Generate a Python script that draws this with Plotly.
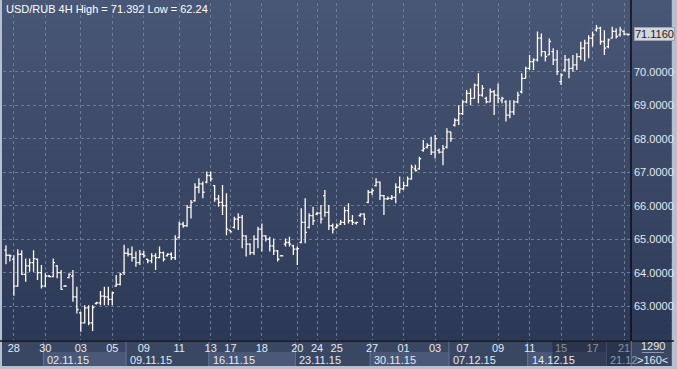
import plotly.graph_objects as go
import numpy as np

# ---------------- data ----------------
title_text = "USD/RUB 4H High = 71.392 Low = 62.24"

opens = [64.67, 64.52, 64.40, 63.60, 64.55, 63.95, 64.20, 64.30, 64.40, 64.00,
         63.60, 63.90, 63.88, 64.20, 64.00, 63.60, 63.85, 63.90, 63.28, 62.80,
         62.50, 62.95, 62.50, 63.08, 63.10, 63.30, 63.28, 63.20, 63.60, 63.65,
         64.00, 64.58, 64.55, 64.45, 64.30, 64.55, 64.40, 64.35, 64.50, 64.45,
         64.60, 64.50, 64.55, 64.45, 65.05, 65.45, 65.40, 65.95, 66.15, 66.55,
         66.65, 66.70, 66.90, 66.60, 66.20, 66.10, 66.00, 65.27, 65.35, 65.60,
         65.65, 65.10, 64.85, 64.60, 65.00, 65.30, 65.10, 65.00, 64.80, 64.65,
         64.50, 64.85, 64.90, 64.80, 64.70, 64.90, 65.50, 65.35, 65.70, 65.75,
         65.78, 66.30, 65.80, 65.40, 65.35, 65.45, 65.50, 65.85, 65.55, 65.48,
         65.70, 65.75, 66.10, 66.40, 66.60, 66.70, 66.30, 66.20, 66.22, 66.25,
         66.55, 66.50, 66.60, 66.80, 67.10, 67.10, 67.65, 67.75, 67.80, 67.60,
         67.65, 67.60, 67.75, 68.20, 68.40, 68.55, 68.75, 69.10, 69.35, 69.20,
         69.60, 69.30, 69.20, 69.10, 69.40, 69.30, 69.15, 69.10, 68.70, 68.80,
         69.10, 69.40, 69.80, 70.10, 70.30, 70.35, 71.00, 70.60, 70.50, 70.60,
         70.35, 69.70, 70.05, 70.35, 70.10, 70.20, 70.45, 70.70, 70.85, 71.00,
         71.25, 71.30, 70.90, 70.75, 71.00, 71.20, 71.10, 71.20, 71.12]
highs = [64.82, 64.54, 64.52, 64.70, 64.67, 64.42, 64.42, 64.67, 64.42, 64.23,
         63.98, 63.93, 64.42, 64.23, 64.08, 63.63, 63.98, 64.08, 63.58, 62.83,
         63.03, 63.03, 63.03, 63.13, 63.45, 63.58, 63.58, 63.43, 63.93, 64.00,
         64.83, 64.73, 64.78, 64.63, 64.68, 64.65, 64.41, 64.58, 64.58, 64.78,
         64.63, 64.58, 64.61, 65.12, 65.52, 65.52, 66.02, 66.17, 66.67, 66.82,
         66.72, 67.02, 67.02, 66.62, 66.32, 66.62, 66.37, 65.27, 65.67, 65.77,
         65.72, 65.12, 64.88, 65.12, 65.37, 65.47, 65.12, 65.07, 65.02, 64.68,
         64.53, 65.02, 65.07, 64.83, 64.78, 65.92, 66.22, 65.77, 65.97, 65.82,
         66.02, 66.47, 66.02, 65.47, 65.47, 65.57, 65.97, 66.07, 65.72, 65.52,
         65.77, 65.77, 66.47, 66.52, 66.82, 66.72, 66.32, 66.27, 66.32, 66.67,
         66.87, 66.72, 66.87, 67.22, 67.22, 67.46, 67.96, 67.86, 68.06, 68.11,
         67.71, 67.81, 68.31, 68.21, 68.61, 69.00, 69.15, 69.45, 69.50, 69.65,
         69.95, 69.60, 69.25, 69.50, 69.45, 69.65, 69.25, 69.15, 69.15, 69.15,
         69.40, 69.95, 70.15, 70.50, 70.40, 71.20, 71.14, 70.60, 70.99, 70.70,
         70.65, 69.95, 70.50, 70.40, 70.50, 70.55, 70.89, 70.95, 71.09, 71.20,
         71.392, 71.34, 71.24, 70.99, 71.34, 71.29, 71.34, 71.24, 71.14]
lows = [64.25, 64.33, 63.31, 63.58, 63.93, 63.73, 64.03, 64.03, 63.78, 63.53,
        63.58, 63.86, 63.86, 63.83, 63.48, 63.58, 63.83, 63.13, 62.78, 62.24,
        62.48, 62.43, 62.26, 63.05, 63.03, 63.03, 63.03, 63.03, 63.58, 63.62,
        63.93, 64.48, 64.33, 64.18, 64.23, 64.45, 64.28, 64.28, 64.08, 64.43,
        64.33, 64.48, 64.38, 64.38, 65.03, 65.34, 65.37, 65.62, 66.12, 66.37,
        66.22, 66.67, 66.72, 66.12, 65.97, 65.72, 65.12, 65.20, 65.32, 65.27,
        64.73, 64.48, 64.53, 64.53, 64.73, 64.63, 64.93, 64.63, 64.53, 64.33,
        64.48, 64.78, 64.78, 64.53, 64.23, 64.88, 64.88, 65.32, 65.42, 65.72,
        65.47, 65.67, 65.27, 65.17, 65.32, 65.42, 65.42, 65.47, 65.42, 65.44,
        65.67, 65.42, 66.07, 66.32, 66.57, 66.17, 65.72, 66.17, 66.17, 66.07,
        66.37, 66.47, 66.57, 66.77, 67.02, 67.07, 67.61, 67.71, 67.51, 67.41,
        67.56, 67.21, 67.71, 67.91, 68.36, 68.41, 68.71, 69.06, 69.00, 69.20,
        69.06, 69.25, 69.06, 69.10, 68.71, 69.06, 69.06, 68.51, 68.61, 68.71,
        69.06, 69.35, 69.80, 70.05, 70.05, 70.30, 70.45, 70.30, 70.50, 70.20,
        69.90, 69.60, 70.00, 69.80, 70.00, 70.05, 70.35, 70.30, 70.40, 70.75,
        71.20, 70.80, 70.50, 70.70, 70.99, 70.99, 71.05, 71.09, 71.07]
closes = [64.52, 64.50, 63.60, 64.55, 63.95, 64.20, 64.30, 64.42, 64.00, 63.60,
          63.90, 63.88, 64.30, 64.00, 63.50, 63.60, 63.95, 63.28, 62.90, 62.50,
          62.95, 62.50, 62.96, 63.10, 63.30, 63.28, 63.20, 63.40, 63.65, 63.95,
          64.58, 64.55, 64.45, 64.30, 64.55, 64.50, 64.35, 64.50, 64.45, 64.60,
          64.40, 64.55, 64.45, 65.00, 65.45, 65.40, 65.95, 66.10, 66.55, 66.65,
          66.40, 66.90, 66.80, 66.20, 66.10, 66.00, 65.30, 65.22, 65.60, 65.65,
          65.10, 64.85, 64.60, 65.00, 65.30, 65.10, 65.00, 64.80, 64.65, 64.40,
          64.50, 64.90, 64.85, 64.70, 64.72, 65.50, 65.20, 65.70, 65.55, 65.78,
          65.60, 65.80, 65.40, 65.30, 65.40, 65.50, 65.85, 65.55, 65.50, 65.50,
          65.75, 65.60, 66.40, 66.45, 66.70, 66.30, 66.20, 66.22, 66.25, 66.55,
          66.50, 66.60, 66.80, 67.15, 67.05, 67.40, 67.70, 67.80, 67.60, 68.00,
          67.60, 67.70, 68.20, 68.00, 68.55, 68.75, 69.10, 69.35, 69.20, 69.60,
          69.30, 69.50, 69.10, 69.40, 69.30, 69.20, 69.20, 68.70, 68.80, 69.10,
          69.30, 69.80, 70.10, 70.30, 70.35, 71.00, 70.60, 70.45, 70.90, 70.35,
          70.00, 69.90, 70.35, 70.10, 70.20, 70.45, 70.70, 70.85, 71.00, 71.10,
          71.30, 70.90, 70.70, 70.95, 71.20, 71.05, 71.25, 71.12, 71.116]

day_labels = ["28", "30", "03", "05", "09", "11", "13", "17", "18", "20", "24",
              "25", "27", "01", "03", "07", "09", "11", "15", "17", "21"]
day_label_bars = [2, 10, 19, 27, 35, 44, 52, 57, 65, 74, 79,
                  84, 93, 101, 109, 116, 125, 133, 141, 149, 157]

week_labels = ["02.11.15", "09.11.15", "16.11.15", "23.11.15",
               "30.11.15", "07.12.15", "14.12.15", "21.12"]
week_start_bars = [10, 31, 52, 74, 93, 113, 133, 153]

price_ticks = [63, 64, 65, 66, 67, 68, 69, 70]
price_tick_text = [f"{v:.4f}" for v in price_ticks]

bar_count_text = "1290"
visible_text = ">160<"

# ---------------- layout helpers ----------------
W, H = 677, 369
ML, MR, MT, MB = 3, 43, 3, 29
PW, PH = W - ML - MR, H - MT - MB


def px_x(px):
    return (px - ML) / PW


def px_y(py):
    return (H - MB - py) / PH


FONT = "Liberation Sans Narrow, Liberation Sans, Arial, sans-serif"
TXT = "#e4e9f2"
N = len(closes)
xs = list(range(N))
pad = 0.76

fig = go.Figure()
fig.add_trace(go.Ohlc(
    x=xs, open=opens, high=highs, low=lows, close=closes,
    increasing=dict(line=dict(color="#fffaf4", width=1.3)),
    decreasing=dict(line=dict(color="#fffaf4", width=1.3)),
    tickwidth=0.45, hoverinfo="skip", showlegend=False,
))

shapes = []
# vertical gradient background for plot + price panel
top = np.array([74, 88, 119])
bot = np.array([44, 57, 86])
nb = 34
for k in range(nb):
    t = (k + 0.5) / nb
    c = (top * (1 - t) + bot * t).astype(int)
    y0p = k * 340 / nb
    y1p = (k + 1) * 340 / nb + 0.6
    shapes.append(dict(type="rect", xref="paper", yref="paper",
                       x0=px_x(2), x1=px_x(675), y0=px_y(min(y1p, 341)), y1=px_y(y0p),
                       fillcolor=f"rgb({c[0]},{c[1]},{c[2]})", line_width=0, layer="below"))
# bottom axis panel
shapes.append(dict(type="rect", xref="paper", yref="paper",
                   x0=px_x(2), x1=px_x(675), y0=px_y(366), y1=px_y(341),
                   fillcolor="#3a4763", line_width=0, layer="below"))
# week boxes (alternating lighter)
for k, s in enumerate(week_start_bars):
    e = week_start_bars[k + 1] if k + 1 < len(week_start_bars) else N - 1 + pad
    if k % 2 == 0:
        shapes.append(dict(type="rect", xref="x", yref="paper",
                           x0=s - 0.5, x1=e - 0.5, y0=px_y(366), y1=px_y(352),
                           fillcolor="#4a5776", line_width=0, layer="below"))
    shapes.append(dict(type="line", xref="x", yref="paper",
                       x0=s - 0.5, x1=s - 0.5, y0=px_y(366), y1=px_y(341),
                       line=dict(color="#64739a", width=1), layer="below"))
# separators
shapes.append(dict(type="line", xref="paper", yref="paper",
                   x0=px_x(0), x1=px_x(677), y0=px_y(341), y1=px_y(341),
                   line=dict(color="#0b0e18", width=1.5), layer="above"))
shapes.append(dict(type="line", xref="paper", yref="paper",
                   x0=1, x1=1, y0=px_y(341), y1=px_y(0),
                   line=dict(color="#0b0e18", width=1.5), layer="above"))
shapes.append(dict(type="line", xref="paper", yref="paper",
                   x0=1, x1=1, y0=px_y(366), y1=px_y(341),
                   line=dict(color="#7f8dab", width=1), layer="above"))
shapes.append(dict(type="line", xref="paper", yref="paper",
                   x0=px_x(645), x1=px_x(667), y0=px_y(352.5), y1=px_y(352.5),
                   line=dict(color="#8c98b0", width=1), layer="above"))
# dim overlay on the right part of time axis
shapes.append(dict(type="rect", xref="paper", yref="paper",
                   x0=px_x(555), x1=1, y0=px_y(366), y1=px_y(342),
                   fillcolor="rgba(22,30,50,0.45)", line_width=0, layer="above"))

annotations = [
    dict(text=title_text, xref="paper", yref="paper", x=px_x(4), y=px_y(1),
         xanchor="left", yanchor="top", showarrow=False,
         font=dict(family=FONT, size=11, color="#ffffff")),
    dict(text=f"{closes[-1]:.4f}", xref="paper", yref="y", x=px_x(637), y=closes[-1],
         xanchor="left", yanchor="middle", showarrow=False,
         bgcolor="#d3d6dc", bordercolor="#9da3ae", borderwidth=1, borderpad=0,
         font=dict(family=FONT, size=11, color="#1a1d24")),
    dict(text=bar_count_text, xref="paper", yref="paper", x=px_x(656), y=px_y(346),
         xanchor="center", yanchor="middle", showarrow=False,
         font=dict(family=FONT, size=11, color=TXT)),
    dict(text=visible_text, xref="paper", yref="paper", x=px_x(656), y=px_y(359.5),
         xanchor="center", yanchor="middle", showarrow=False,
         font=dict(family=FONT, size=11, color=TXT)),
]
for k, (s, lab) in enumerate(zip(week_start_bars, week_labels)):
    dim = s * (PW / (N - 1 + 2 * pad)) + ML > 555
    annotations.append(dict(text=lab, xref="x", yref="paper", x=s - 0.5, y=px_y(359.5),
                            xanchor="left", yanchor="middle", xshift=2, showarrow=False,
                            font=dict(family=FONT, size=11,
                                      color="#8e99b0" if dim else TXT)))

fig.update_layout(
    width=W, height=H,
    margin=dict(l=ML, r=MR, t=MT, b=MB, pad=0),
    paper_bgcolor="#b6c0d0", plot_bgcolor="rgba(0,0,0,0)",
    shapes=shapes, annotations=annotations, showlegend=False,
    font=dict(family=FONT, size=11, color=TXT),
    xaxis=dict(range=[-pad, N - 1 + pad], tickvals=day_label_bars, ticktext=day_labels,
               showgrid=True, gridcolor="#6c7b9c", griddash="3px,3px", gridwidth=1,
               zeroline=False, showline=False, ticks="", rangeslider=dict(visible=False),
               tickfont=dict(family=FONT, size=11, color=TXT), fixedrange=True),
    yaxis=dict(side="right", range=[61.99, 72.05], tickvals=price_ticks,
               ticktext=price_tick_text, showgrid=True, gridcolor="#6c7b9c",
               griddash="3px,3px", gridwidth=1, zeroline=False, showline=False,
               ticks="", ticklabelstandoff=2,
               tickfont=dict(family=FONT, size=11, color=TXT), fixedrange=True),
)

fig.write_html(
    "out.html",
    config={"displayModeBar": False},
    post_script="document.body.style.margin='0';document.body.style.overflow='hidden';",
)
